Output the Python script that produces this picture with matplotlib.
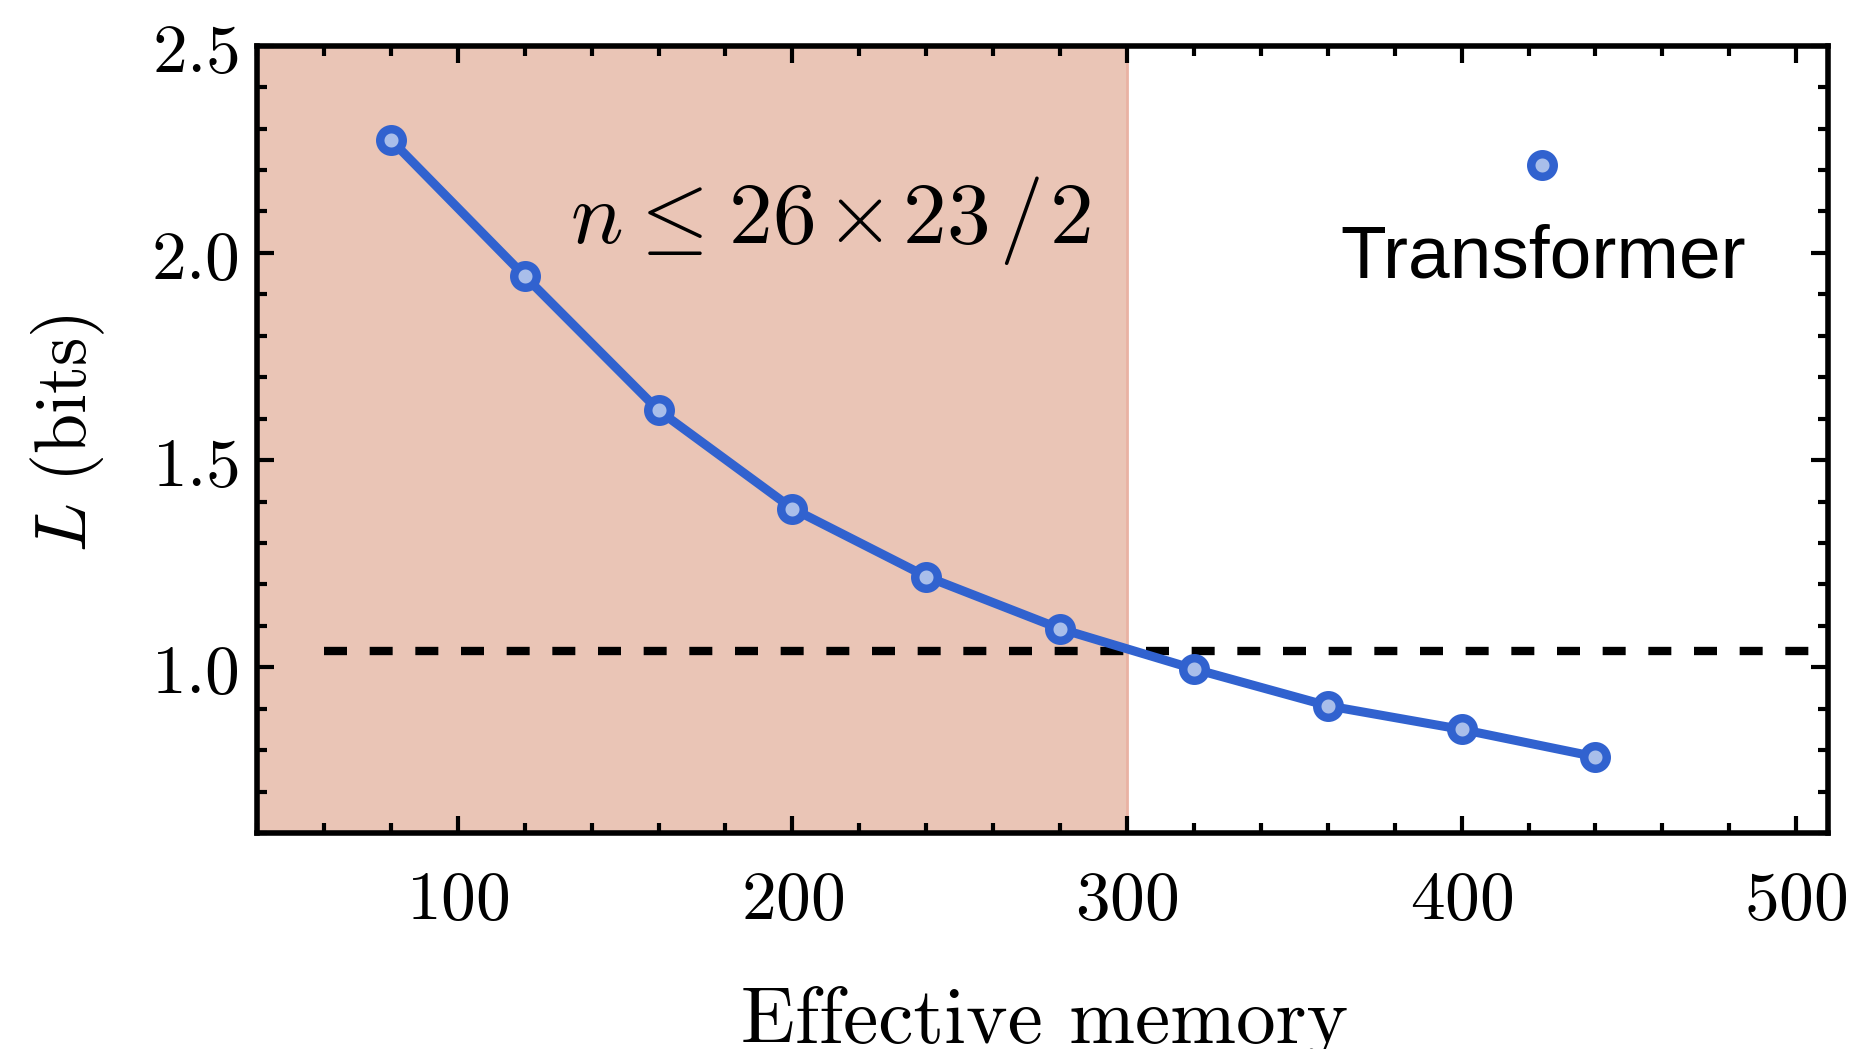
import matplotlib
matplotlib.use('Agg')
import matplotlib.pyplot as plt
from matplotlib.ticker import MultipleLocator, FuncFormatter, FixedLocator

plt.rcParams['mathtext.fontset'] = 'cm'
plt.rcParams['font.family'] = ['DejaVu Serif']

# ---- data ----
memory = [80, 120, 160, 200, 240, 280, 320, 360, 400, 440]
loss = [2.273, 1.944, 1.620, 1.383, 1.219, 1.093, 0.996, 0.907, 0.850, 0.784]
threshold = 1.04
threshold_x = [60, 510]
shade_range = [40, 300]
x_limits = (40, 509.5)
y_limits = (0.6, 2.5)
x_major = [100, 200, 300, 400, 500]
y_major = [1.0, 1.5, 2.0, 2.5]
series_label = 'Transformer'
annotation = (r'$n\hspace{0.04}{\leq}\hspace{0.06}26\hspace{0.12}{\times}\hspace{0.12}'
              r'23\hspace{0.12}{/}\hspace{0.08}2$')
annotation_pos = (133.5, 2.024)

blue = '#3162CF'
face = '#A9BEEA'

fig = plt.figure(figsize=(18.59, 10.49), dpi=100)
ax = fig.add_axes([257/1859, 1-833/1049, (1828-257)/1859, (833-45.7)/1049])

ax.axvspan(shade_range[0], shade_range[1], facecolor='#EAC5B6', edgecolor='none', zorder=0)
ax.axvline(shade_range[1], color='#E9B2A3', lw=2, zorder=0.5)

ax.plot(threshold_x, [threshold, threshold], color='black', lw=6,
        linestyle=(0, (2.76, 2.72)), dash_capstyle='butt', zorder=2)

style = dict(color=blue, lw=6.5, marker='o', ms=16.2, mew=6.1, mfc=face, mec=blue)
ax.plot(memory, loss, zorder=3, **style)

# legend (marker above label)
ax.plot([0.818], [0.8485], transform=ax.transAxes, clip_on=False, zorder=4,
        linestyle='none', marker='o', ms=16.2, mew=6.1, mfc=face, mec=blue)
ax.text(0.819, 0.706, series_label, transform=ax.transAxes, ha='center', va='baseline',
        fontsize=54, family=['Liberation Sans', 'DejaVu Sans'])

ax.text(annotation_pos[0], annotation_pos[1], annotation, fontsize=63, ha='left', va='baseline', zorder=5)

ax.set_xlim(*x_limits)
ax.set_ylim(*y_limits)
ax.xaxis.set_major_locator(FixedLocator(x_major))
ax.xaxis.set_minor_locator(MultipleLocator(20))
ax.yaxis.set_major_locator(FixedLocator(y_major))
ax.yaxis.set_minor_locator(MultipleLocator(0.1))
ax.xaxis.set_major_formatter(FuncFormatter(lambda v, p: f'${v:.0f}$'))
ax.yaxis.set_major_formatter(FuncFormatter(lambda v, p: f'${v:.1f}$'))

ax.tick_params(which='both', direction='in', top=True, right=True, width=3, colors='black')
ax.tick_params(which='major', length=12.2)
ax.tick_params(which='minor', length=7.2)
ax.tick_params(axis='x', which='major', pad=24, labelsize=50)
ax.tick_params(axis='y', which='major', pad=13, labelsize=50)
for s in ax.spines.values():
    s.set_linewidth(4)

ax.set_xlabel('Effective memory', fontsize=57, va='baseline', family=['cmr10', 'DejaVu Serif'])
ax.xaxis.set_label_coords(0.5016, -0.2667)
ax.set_ylabel(r'$L\ (\mathrm{bits})$', fontsize=52, va='center')
ax.yaxis.set_label_coords(-0.1203, 0.508)

fig.savefig('out.png', dpi=100)
